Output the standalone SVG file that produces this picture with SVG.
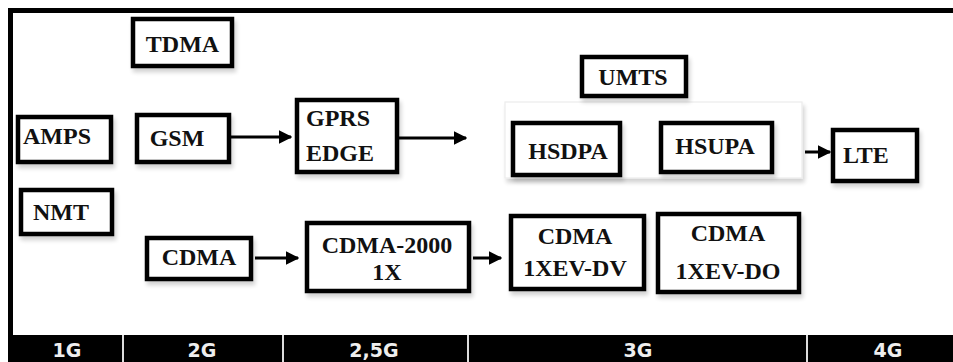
<svg xmlns="http://www.w3.org/2000/svg" width="953" height="362" viewBox="0 0 953 362">
  <defs>
    <marker id="ah" viewBox="0 0 10 10" refX="9" refY="5" markerWidth="4.5" markerHeight="4.5" markerUnits="strokeWidth" orient="auto">
      <path d="M0,0 L10,5 L0,10 z" fill="#000"/>
    </marker>
    <filter id="sh" x="-10%" y="-20%" width="130%" height="160%">
      <feGaussianBlur in="SourceAlpha" stdDeviation="2"/>
      <feOffset dx="2" dy="4"/>
      <feComponentTransfer><feFuncA type="linear" slope="0.18"/></feComponentTransfer>
      <feMerge><feMergeNode/><feMergeNode in="SourceGraphic"/></feMerge>
    </filter>
    <style>
      .box { fill: #fff; stroke: #000; stroke-width: 4.5; filter: url(#sh); }
      .lbl { font-family: "Liberation Serif", "Times New Roman", serif; font-weight: bold; font-size: 24px; fill: #111; }
      .gen { font-family: "DejaVu Sans", Verdana, sans-serif; font-weight: bold; font-size: 19px; fill: #eee; text-anchor: middle; }
      .conn { stroke: #000; stroke-width: 3; fill: none; marker-end: url(#ah); }
    </style>
  </defs>
  <rect x="0" y="0" width="953" height="362" fill="#fff"/>
  <g id="frame">
    <line x1="8" y1="10.5" x2="953" y2="10.5" stroke="#000" stroke-width="5"/>
    <line x1="10.5" y1="8" x2="10.5" y2="336" stroke="#000" stroke-width="5"/>
    <rect x="8" y="335" width="945" height="27" fill="#000"/>
    <g stroke="#ddd" stroke-width="2">
      <line x1="123" y1="335" x2="123" y2="362"/>
      <line x1="283" y1="335" x2="283" y2="362"/>
      <line x1="468" y1="335" x2="468" y2="362"/>
      <line x1="807" y1="335" x2="807" y2="362"/>
    </g>
    <text class="gen" x="67" y="357">1G</text>
    <text class="gen" x="202" y="357">2G</text>
    <text class="gen" x="374" y="357">2,5G</text>
    <text class="gen" x="638" y="357">3G</text>
    <text class="gen" x="888" y="357">4G</text>
  </g>
  <g id="umts-group">
    <rect x="505" y="102" width="297" height="76" fill="#fff" stroke="#ececec" stroke-width="1.2" filter="url(#sh)"/>
  </g>
  <g id="tdma"><rect class="box" x="133" y="19" width="99" height="47"/><text class="lbl" x="182.5" y="52" text-anchor="middle">TDMA</text></g>
  <g id="amps"><rect class="box" x="18" y="117" width="93" height="45"/><text class="lbl" x="23" y="144">AMPS</text></g>
  <g id="gsm"><rect class="box" x="137" y="115" width="92" height="47"/><text class="lbl" x="177" y="146" text-anchor="middle">GSM</text></g>
  <g id="nmt"><rect class="box" x="21" y="190" width="91" height="44"/><text class="lbl" x="33" y="220">NMT</text></g>
  <g id="cdma"><rect class="box" x="147" y="238" width="104" height="41"/><text class="lbl" x="199" y="265" text-anchor="middle">CDMA</text></g>
  <g id="gprs-edge"><rect class="box" x="297" y="100" width="100" height="72"/><text class="lbl" x="306" y="126">GPRS</text><text class="lbl" x="306" y="161">EDGE</text></g>
  <g id="cdma2000"><rect class="box" x="307" y="223" width="162" height="68"/><text class="lbl" x="387" y="253" text-anchor="middle">CDMA-2000</text><text class="lbl" x="387" y="280" text-anchor="middle">1X</text></g>
  <g id="umts"><rect class="box" x="582" y="57" width="104" height="39"/><text class="lbl" x="633" y="85" text-anchor="middle">UMTS</text></g>
  <g id="hsdpa"><rect class="box" x="513" y="123" width="107" height="52"/><text class="lbl" x="568" y="159" text-anchor="middle">HSDPA</text></g>
  <g id="hsupa"><rect class="box" x="661" y="123" width="111" height="49"/><text class="lbl" x="715" y="154" text-anchor="middle">HSUPA</text></g>
  <g id="lte"><rect class="box" x="833" y="130" width="84" height="51"/><text class="lbl" x="843" y="163">LTE</text></g>
  <g id="cdma-dv"><rect class="box" x="511" y="216" width="133" height="73"/><text class="lbl" x="575" y="244" text-anchor="middle">CDMA</text><text class="lbl" x="575" y="276" text-anchor="middle">1XEV-DV</text></g>
  <g id="cdma-do"><rect class="box" x="658" y="214" width="141" height="78"/><text class="lbl" x="728" y="241" text-anchor="middle">CDMA</text><text class="lbl" x="728" y="279" text-anchor="middle">1XEV-DO</text></g>
  <g id="connectors">
    <line class="conn" x1="231" y1="137" x2="291" y2="137"/>
    <line class="conn" x1="399" y1="138" x2="466" y2="138"/>
    <line class="conn" x1="805" y1="152" x2="830" y2="152"/>
    <line class="conn" x1="255" y1="258" x2="298" y2="258"/>
    <line class="conn" x1="473" y1="258" x2="501" y2="258"/>
  </g>
</svg>
